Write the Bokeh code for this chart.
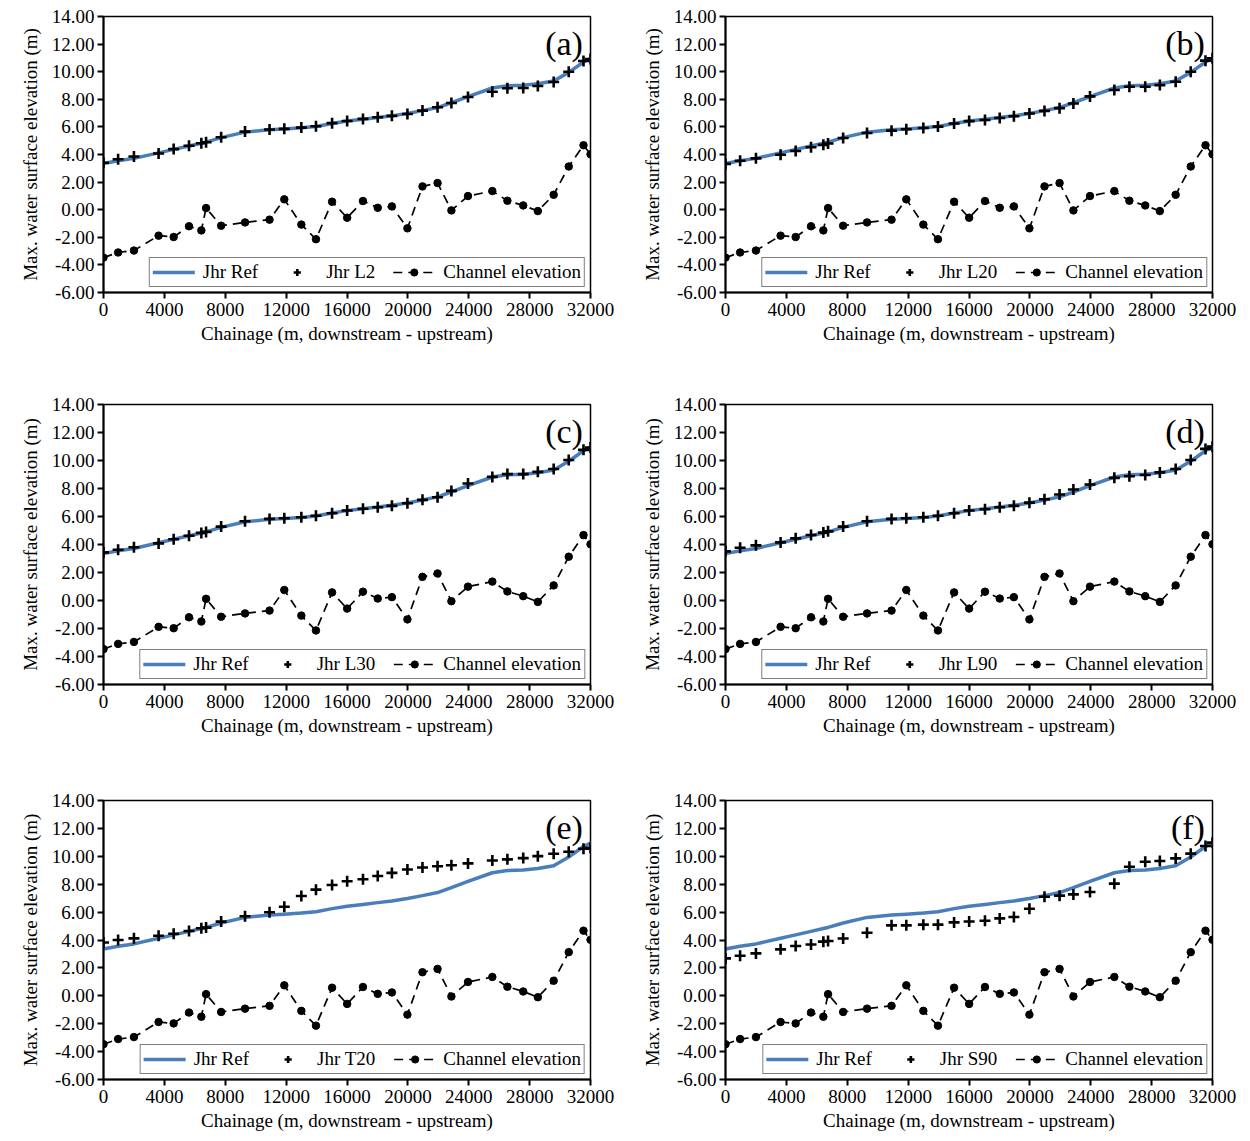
from bokeh.plotting import figure
from bokeh.layouts import gridplot
from bokeh.models import (FixedTicker, NumeralTickFormatter, Legend, LegendItem,
                          Label, Range1d)
from bokeh.embed import file_html
from bokeh.resources import INLINE

# Chainage of the surveyed cross-sections (m, downstream -> upstream)
chainage = [0, 960, 2000, 3620, 4610, 5620, 6430, 6740, 7730, 9300, 10910,
            11880, 13000, 13960, 15020, 16010, 17050, 18020, 18950, 19970,
            20960, 21950, 22860, 23950, 25550, 26540, 27580, 28540, 29580,
            30570, 31540, 32000]

# Channel bed elevation (m)
channel = [-3.47, -3.10, -2.96, -1.88, -1.98, -1.20, -1.50, 0.12, -1.16, -0.92,
           -0.72, 0.75, -1.08, -2.14, 0.58, -0.58, 0.63, 0.14, 0.24, -1.35,
           1.69, 1.93, -0.05, 0.99, 1.35, 0.65, 0.31, -0.10, 1.08, 3.13,
           4.67, 4.02]

# Reference run: maximum water surface elevation (m)
jhr_ref = [3.35, 3.55, 3.72, 4.12, 4.37, 4.62, 4.82, 4.90, 5.22, 5.62, 5.80,
           5.85, 5.93, 6.03, 6.25, 6.42, 6.55, 6.68, 6.80, 6.97, 7.18, 7.40,
           7.75, 8.20, 8.82, 8.98, 9.02, 9.12, 9.32, 9.95, 10.70, 10.95]

# Scenario runs
jhr_l2 = [3.40, 3.66, 3.86, 4.07, 4.39, 4.63, 4.82, 4.89, 5.25, 5.66, 5.81,
          5.86, 5.95, 6.05, 6.27, 6.43, 6.58, 6.70, 6.80, 6.94, 7.18, 7.42,
          7.73, 8.17, 8.55, 8.80, 8.82, 8.96, 9.25, 10.00, 10.77, 10.92]
jhr_l20 = [3.32, 3.55, 3.72, 3.98, 4.25, 4.52, 4.70, 4.80, 5.20, 5.56, 5.73,
           5.83, 5.92, 6.02, 6.25, 6.42, 6.50, 6.65, 6.77, 6.97, 7.16, 7.36,
           7.70, 8.21, 8.67, 8.91, 8.91, 9.03, 9.27, 10.00, 10.80, 10.97]
jhr_l30 = [3.44, 3.63, 3.80, 4.08, 4.37, 4.63, 4.83, 4.90, 5.28, 5.66, 5.83,
           5.88, 5.95, 6.05, 6.23, 6.43, 6.55, 6.66, 6.76, 6.95, 7.19, 7.38,
           7.83, 8.36, 8.83, 9.03, 9.03, 9.19, 9.39, 10.04, 10.76, 10.92]
jhr_l90 = [3.51, 3.77, 3.94, 4.15, 4.44, 4.68, 4.85, 4.94, 5.28, 5.66, 5.83,
           5.88, 5.95, 6.05, 6.23, 6.43, 6.52, 6.66, 6.76, 6.99, 7.23, 7.57,
           7.93, 8.29, 8.76, 8.88, 8.96, 9.15, 9.39, 10.04, 10.83, 10.99]
jhr_t20 = [3.82, 4.00, 4.12, 4.31, 4.45, 4.65, 4.84, 4.89, 5.32, 5.70, 5.99,
           6.38, 7.15, 7.61, 7.94, 8.21, 8.35, 8.59, 8.81, 9.05, 9.20, 9.29,
           9.36, 9.49, 9.70, 9.78, 9.87, 10.01, 10.18, 10.33, 10.54, 10.61]
jhr_s90 = [2.68, 2.87, 3.04, 3.33, 3.57, 3.68, 3.88, 3.93, 4.11, 4.52, 5.05,
           5.05, 5.10, 5.10, 5.26, 5.33, 5.38, 5.55, 5.65, 6.24, 7.10, 7.18,
           7.27, 7.44, 8.04, 9.25, 9.61, 9.66, 9.85, 10.19, 10.74, 10.98]

panels = [
    ("(a)", "Jhr L2", jhr_l2),
    ("(b)", "Jhr L20", jhr_l20),
    ("(c)", "Jhr L30", jhr_l30),
    ("(d)", "Jhr L90", jhr_l90),
    ("(e)", "Jhr T20", jhr_t20),
    ("(f)", "Jhr S90", jhr_s90),
]

x_ticks = [0, 4000, 8000, 12000, 16000, 20000, 24000, 28000, 32000]
y_ticks = [-6, -4, -2, 0, 2, 4, 6, 8, 10, 12, 14]

FONT = "Liberation Serif"
REF_BLUE = "#4a7ebb"

# per-row frame geometry: (border top, frame height, border bottom)
row_geom = [(16, 276, 100), (12, 280, 104), (12, 279, 62)]
# per-column geometry: (border left, border right)
col_geom = [(103, 35), (100, 38)]


def make_panel(idx, tag, name, values):
    r, c = divmod(idx, 2)
    top, fh, bottom = row_geom[r]
    left, right = col_geom[c]
    p = figure(frame_width=487, frame_height=fh,
               min_border_top=top, min_border_bottom=bottom,
               min_border_left=left, min_border_right=right,
               x_range=Range1d(0, 32000), y_range=Range1d(-6, 14),
               output_backend="svg", toolbar_location=None,
               background_fill_color="white", border_fill_color="white")
    p.xgrid.visible = False
    p.ygrid.visible = False
    p.outline_line_color = "black"
    p.outline_line_width = 1.5

    for ax in (p.xaxis[0], p.yaxis[0]):
        ax.axis_line_width = 2
        ax.axis_line_color = "black"
        ax.major_tick_line_width = 2
        ax.major_tick_in = 0
        ax.major_tick_out = 6
        ax.minor_tick_line_color = None
        ax.major_label_text_font = FONT
        ax.major_label_text_font_size = "19px"
        ax.major_label_text_color = "black"
        ax.axis_label_text_font = FONT
        ax.axis_label_text_font_size = "19px"
        ax.axis_label_text_font_style = "normal"
        ax.axis_label_text_color = "black"

    p.xaxis.ticker = FixedTicker(ticks=x_ticks)
    p.yaxis.ticker = FixedTicker(ticks=y_ticks)
    p.yaxis.formatter = NumeralTickFormatter(format="0.00")
    p.xaxis.major_label_standoff = 4
    p.yaxis.major_label_standoff = 3
    p.xaxis.axis_label = "Chainage (m, downstream - upstream)"
    p.yaxis.axis_label = "Max. water surface elevation (m)"
    p.xaxis.axis_label_standoff = 4
    p.yaxis.axis_label_standoff = 8

    ref = p.line(chainage, jhr_ref, line_color=REF_BLUE, line_width=3.5,
                 line_join="round", line_cap="round")
    ch_line = p.line(chainage, channel, line_color="black", line_width=1.7,
                     line_dash="9 6")
    ch_pts = p.scatter(chainage, channel, marker="circle", size=7.5,
                       fill_color="black", line_color="black")
    run = p.scatter(chainage, values, marker="cross", size=11,
                    line_color="black", line_width=2.6)

    legend = Legend(items=[
        LegendItem(label="Jhr Ref", renderers=[ref]),
        LegendItem(label=name, renderers=[run]),
        LegendItem(label="Channel elevation", renderers=[ch_line, ch_pts]),
    ])
    legend.orientation = "horizontal"
    legend.location = "bottom_right"
    legend.margin = 5
    legend.padding = 3
    legend.spacing = 18
    legend.glyph_width = 42
    legend.glyph_height = 18
    legend.label_standoff = 8
    legend.label_text_font = FONT
    legend.label_text_font_size = "19px"
    legend.label_text_color = "black"
    legend.label_height = 18
    legend.border_line_color = "black"
    legend.border_line_width = 1.2
    legend.background_fill_color = "white"
    legend.background_fill_alpha = 1.0
    p.add_layout(legend, "center")

    p.add_layout(Label(x=31500, y=12.05, text=tag, text_align="right",
                       text_baseline="alphabetic", text_font=FONT,
                       text_font_size="34px", text_color="black"))
    return p


figs = [make_panel(i, *pan) for i, pan in enumerate(panels)]
grid = gridplot([figs[0:2], figs[2:4], figs[4:6]], toolbar_location=None)

open("out.html", "w").write(file_html(grid, INLINE))
